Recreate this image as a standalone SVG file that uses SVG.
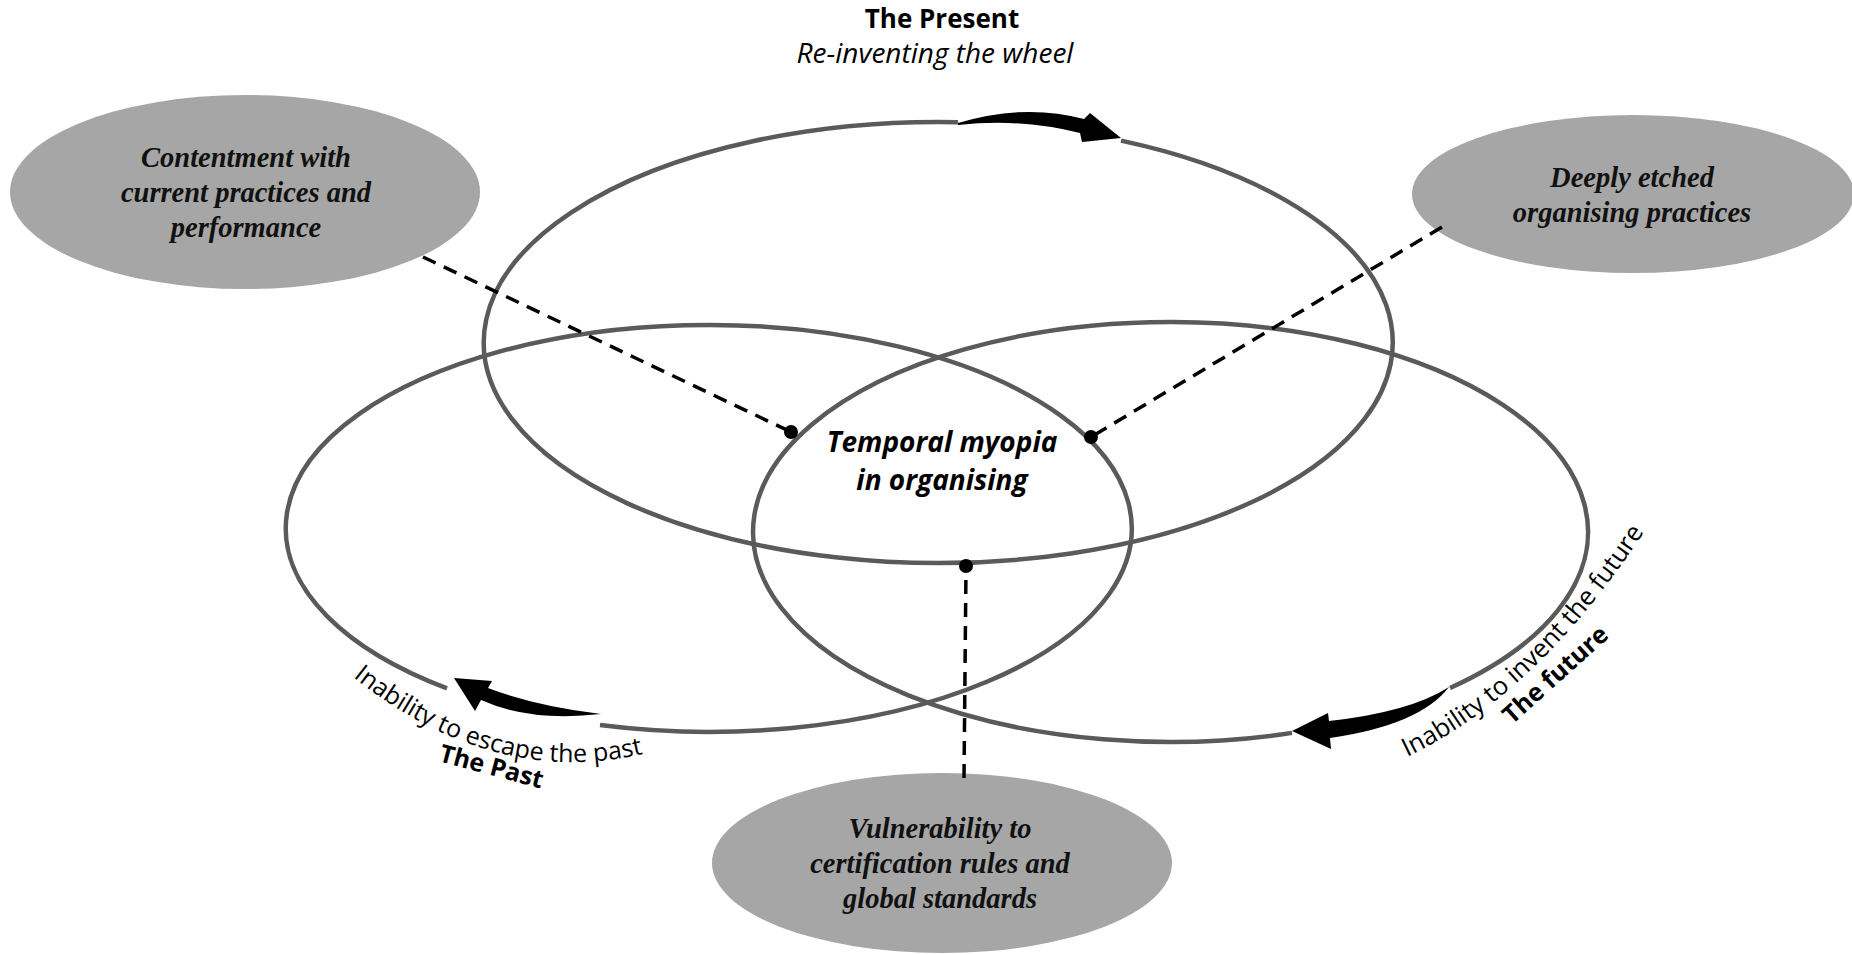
<svg xmlns="http://www.w3.org/2000/svg" width="1852" height="955" viewBox="0 0 1852 955">
<style>
.ring{fill:none;stroke:#5a5a5a;stroke-width:4.5}
.node{fill:#a6a6a6}
.ntext{font-family:"Liberation Serif",serif;font-style:italic;font-weight:bold;font-size:28.5px;fill:#111;text-anchor:middle}
.dash{stroke:#000;stroke-width:3.5;stroke-dasharray:14 9;fill:none}
.dot{fill:#000}
.arrow{fill:#000}
.lbl{font-family:"Open Sans",sans-serif;fill:#000}
</style>
<defs>
<path id="pastPath" d="M353,677 Q493.5,788.5 642,754"/>
<path id="futurePath" d="M1407,757 Q1543,692 1655,515"/>
</defs>
<rect width="1852" height="955" fill="#fff"/>

<g id="ring-present">
<path class="ring" d="M1121,140.6 A454.5 220.5 0 1 1 958,122.2"/>
<text class="lbl" x="942" y="28" font-size="26" font-weight="bold" text-anchor="middle">The Present</text>
<text class="lbl" x="935" y="63" font-size="28" font-style="italic" text-anchor="middle">Re-inventing the wheel</text>
</g>
<g id="ring-past">
<path class="ring" d="M600,725.1 A423 203.5 0 1 0 447,688.3"/>
<text class="lbl" font-size="25"><textPath href="#pastPath">Inability to escape the past</textPath></text>
<text class="lbl" x="438" y="761" font-size="25" font-weight="bold" transform="rotate(15 438 761)">The Past</text>
</g>
<g id="ring-future">
<path class="ring" d="M1450,688 A417.5 210 0 1 0 1292,732.9"/>
<text class="lbl" font-size="25.5"><textPath href="#futurePath">Inability to invent the future</textPath></text>
<text class="lbl" x="1512" y="725" font-size="25" font-weight="bold" transform="rotate(-42 1512 725)">The future</text>
</g>

<g id="center">
<text class="lbl" x="942" y="452" font-size="28" font-weight="bold" font-style="italic" text-anchor="middle">Temporal myopia</text>
<text class="lbl" x="942" y="490" font-size="28" font-weight="bold" font-style="italic" text-anchor="middle">in organising</text>
</g>

<g id="node-contentment">
<ellipse class="node" cx="245" cy="192" rx="235" ry="97"/>
<text class="ntext" x="246" y="167">Contentment with</text>
<text class="ntext" x="246" y="202">current practices and</text>
<text class="ntext" x="246" y="237">performance</text>
</g>
<g id="node-deeply">
<ellipse class="node" cx="1633" cy="194" rx="221" ry="79"/>
<text class="ntext" x="1632" y="187">Deeply etched</text>
<text class="ntext" x="1632" y="222">organising practices</text>
</g>
<g id="node-vulnerability">
<ellipse class="node" cx="942" cy="863" rx="230" ry="90"/>
<text class="ntext" x="940" y="838">Vulnerability to</text>
<text class="ntext" x="940" y="873">certification rules and</text>
<text class="ntext" x="940" y="908">global standards</text>
</g>

<g id="connectors">
<line class="dash" x1="423" y1="257" x2="791" y2="432"/>
<line class="dash" x1="1442" y1="227" x2="1091" y2="437"/>
<line class="dash" x1="964" y1="778" x2="966" y2="567"/>
<circle class="dot" cx="791" cy="432" r="7"/>
<circle class="dot" cx="1091" cy="437" r="7"/>
<circle class="dot" cx="966" cy="566" r="7"/>
<path class="arrow" d="M958,123 Q1025,103 1084,119 L1090,113 L1121,138 L1082,142 L1080,133 Q1020,118 958,125 Z"/>
<path class="arrow" d="M454,678 L492,681 L488,688 Q535,706 601,714 Q530,722 481,700 L475,711 Z"/>
<path class="arrow" d="M1292,731 L1328,713 L1329,721 Q1410,712 1449,687 Q1420,725 1330,738 L1331,749 Z"/>
</g>
</svg>
